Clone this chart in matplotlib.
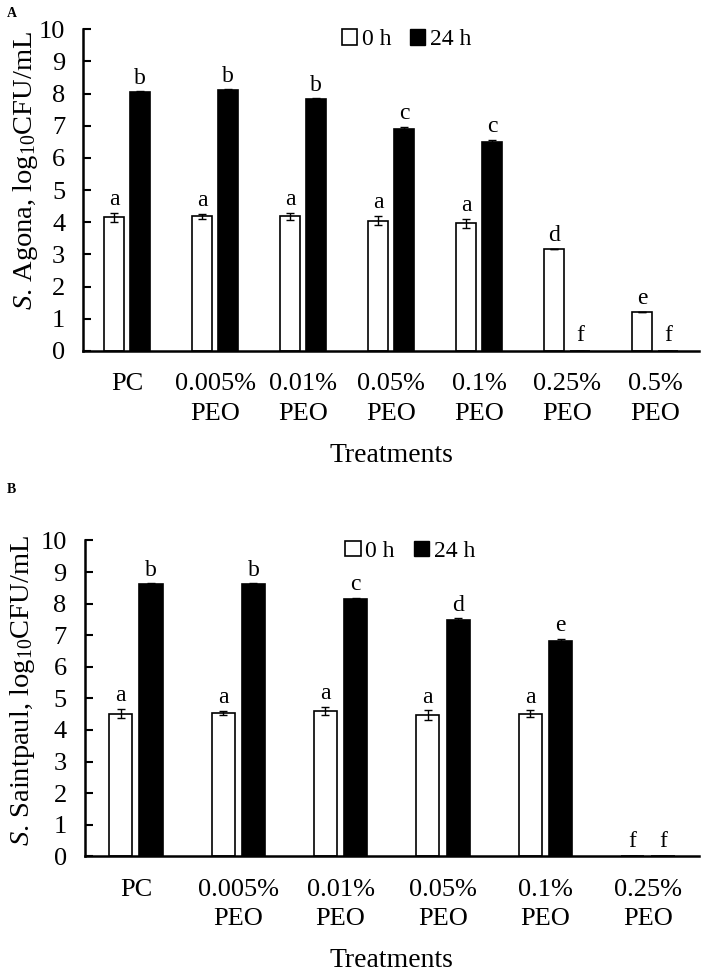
import numpy as np
import matplotlib.pyplot as plt
from matplotlib.patches import Patch

plt.rcParams['font.family'] = ['Liberation Serif', 'DejaVu Serif']
plt.rcParams['mathtext.fontset'] = 'custom'
plt.rcParams['mathtext.rm'] = 'Liberation Serif'
plt.rcParams['mathtext.it'] = 'Liberation Serif:italic'

# panel A: S. Agona
cats_a = ['PC', '0.005%\nPEO', '0.01%\nPEO', '0.05%\nPEO', '0.1%\nPEO', '0.25%\nPEO', '0.5%\nPEO']
a_0h = [4.15, 4.18, 4.18, 4.05, 3.97, 3.18, 1.22]
a_0h_err = [0.15, 0.09, 0.12, 0.15, 0.14, 0.0, 0.0]
a_24h = [8.05, 8.10, 7.83, 6.90, 6.50, 0.0, 0.0]
a_24h_err = [0.02, 0.03, 0.02, 0.06, 0.06, 0.0, 0.0]
a_let_0h = ['a', 'a', 'a', 'a', 'a', 'd', 'e']
a_let_24h = ['b', 'b', 'b', 'c', 'c', 'f', 'f']

# panel B: S. Saintpaul
cats_b = ['PC', '0.005%\nPEO', '0.01%\nPEO', '0.05%\nPEO', '0.1%\nPEO', '0.25%\nPEO']
b_0h = [4.52, 4.53, 4.60, 4.48, 4.52, 0.0]
b_0h_err = [0.15, 0.07, 0.13, 0.15, 0.11, 0.0]
b_24h = [8.62, 8.62, 8.15, 7.47, 6.83, 0.0]
b_24h_err = [0.02, 0.02, 0.03, 0.07, 0.05, 0.0]
b_let_0h = ['a', 'a', 'a', 'a', 'a', 'f']
b_let_24h = ['b', 'b', 'c', 'd', 'e', 'f']


def panel(ax, cats, v0, e0, v24, e24, l0, l24, ylabel, leg_x, ylab_xy):
    x = np.arange(len(cats))
    w = 0.227
    off = 0.148
    ax.bar(x - off, v0, w, color='white', edgecolor='black', linewidth=1.2,
           yerr=e0, error_kw=dict(ecolor='black', elinewidth=1, capsize=3, capthick=1))
    ax.bar(x + off, v24, w, color='black', edgecolor='black', linewidth=1.2,
           yerr=e24, error_kw=dict(ecolor='black', elinewidth=1, capsize=3, capthick=1))
    for i in range(len(cats)):
        y0 = v0[i] + e0[i] + 0.08 if v0[i] > 0 else 0.15
        y24 = v24[i] + e24[i] + 0.08 if v24[i] > 0 else 0.15
        ax.text(x[i] - off, y0, l0[i], ha='center', va='bottom', fontsize=17)
        ax.text(x[i] + off, y24, l24[i], ha='center', va='bottom', fontsize=17)
    ax.set_xlim(-0.5, len(cats) - 0.5)
    ax.set_ylim(0, 10)
    ax.set_yticks(range(0, 11))
    ax.set_xticks(x)
    ax.set_xticklabels(cats, fontsize=19, linespacing=1.45)
    ax.tick_params(axis='x', length=0, pad=16)
    ax.tick_params(axis='y', labelsize=19, width=1.5, length=6, direction='in', pad=13)
    ax.spines['top'].set_visible(False)
    ax.spines['right'].set_visible(False)
    ax.spines['left'].set_linewidth(1.8)
    ax.spines['bottom'].set_linewidth(1.8)
    ax.set_xlabel('Treatments', fontsize=20, labelpad=13)
    ax.set_ylabel(ylabel, fontsize=20.5)
    ax.yaxis.set_label_coords(*ylab_xy)
    handles = [Patch(facecolor='white', edgecolor='black', linewidth=1.2, label='0 h'),
               Patch(facecolor='black', edgecolor='black', label='24 h')]
    ax.legend(handles=handles, loc='upper center', bbox_to_anchor=(leg_x, 1.067), ncol=2,
              frameon=False, fontsize=17, handlelength=0.65, handleheight=0.65,
              handletextpad=0.2, columnspacing=0.8)


fig = plt.figure(figsize=(7.06, 9.72), dpi=100)
ax1 = fig.add_axes([0.118, 0.639, 0.872, 0.331])
ax2 = fig.add_axes([0.120, 0.119, 0.870, 0.325])

panel(ax1, cats_a, a_0h, a_0h_err, a_24h, a_24h_err, a_let_0h, a_let_24h,
      r'$\it{S}$. Agona, log$_{10}$CFU/mL', 0.525, (-0.07, 0.56))
panel(ax2, cats_b, b_0h, b_0h_err, b_24h, b_24h_err, b_let_0h, b_let_24h,
      r'$\it{S}$. Saintpaul, log$_{10}$CFU/mL', 0.53, (-0.078, 0.525))

fig.text(0.01, 0.982, 'A', fontsize=10, fontweight='bold')
fig.text(0.01, 0.493, 'B', fontsize=10, fontweight='bold')

plt.savefig('out.png', dpi=100)
